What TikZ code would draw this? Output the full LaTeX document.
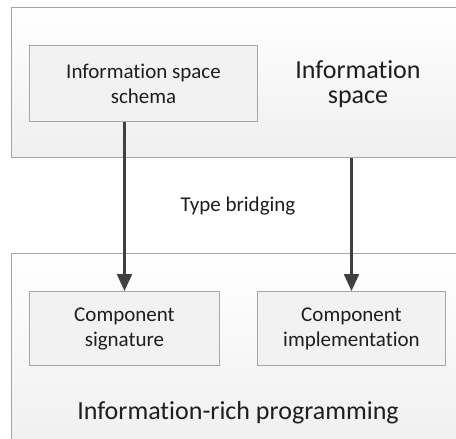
\documentclass[tikz,border=0pt]{standalone}
\usepackage{fontspec}
\setmainfont{Carlito}[Ligatures=NoCommon]
\usetikzlibrary{arrows.meta}
\definecolor{boxgray}{HTML}{A6A6A6}
\definecolor{panelgray}{HTML}{EFEFEF}
\definecolor{arrowgray}{HTML}{404040}
\definecolor{textgray}{HTML}{1E1E1E}
\tikzset{
  panel/.style={draw=boxgray, line width=1.2pt, top color=white, bottom color=panelgray, anchor=north west, inner sep=0pt},
  partbox/.style={draw=boxgray, line width=1pt, fill=panelgray!80, text=textgray, anchor=north west, align=center, inner sep=0pt, font=\fontsize{21}{25}\selectfont},
  biglabel/.style={align=center, text=textgray, font=\fontsize{26}{25}\selectfont},
  link/.style={arrowgray, line width=2.2pt, -{Triangle[length=17pt,width=15pt]}}
}

\begin{document}
\begin{tikzpicture}[x=1pt,y=-1pt]
\clip (0,0) rectangle (456,439);
\fill[white] (0,0) rectangle (456,439);
% the two layers
\node[panel, minimum width=460pt, minimum height=150pt] (space) at (11,7) {};
\node[panel, minimum width=460pt, minimum height=200pt] (prog) at (11,253) {};
% boxes inside them
\node[partbox, minimum width=228pt, minimum height=76pt] (schema) at (29,45) {Information space\\schema};
\node[partbox, minimum width=190pt, minimum height=74pt] (sig) at (29,291) {Component\\signature};
\node[partbox, minimum width=188pt, minimum height=74pt] (impl) at (257,291) {Component\\implementation};
% labels
\node[biglabel] (spacelabel) at (358,84) {Information\\space};
\node[biglabel] (proglabel) at (238,413) {Information-rich programming};
\node[text=textgray, font=\fontsize{21}{25}\selectfont] (bridge) at (238,206) {Type bridging};
% arrows
\draw[link] (schema.south -| sig.north) -- (sig.north);
\draw[link] (space.south -| impl.north) -- (impl.north);
\end{tikzpicture}
\end{document}
